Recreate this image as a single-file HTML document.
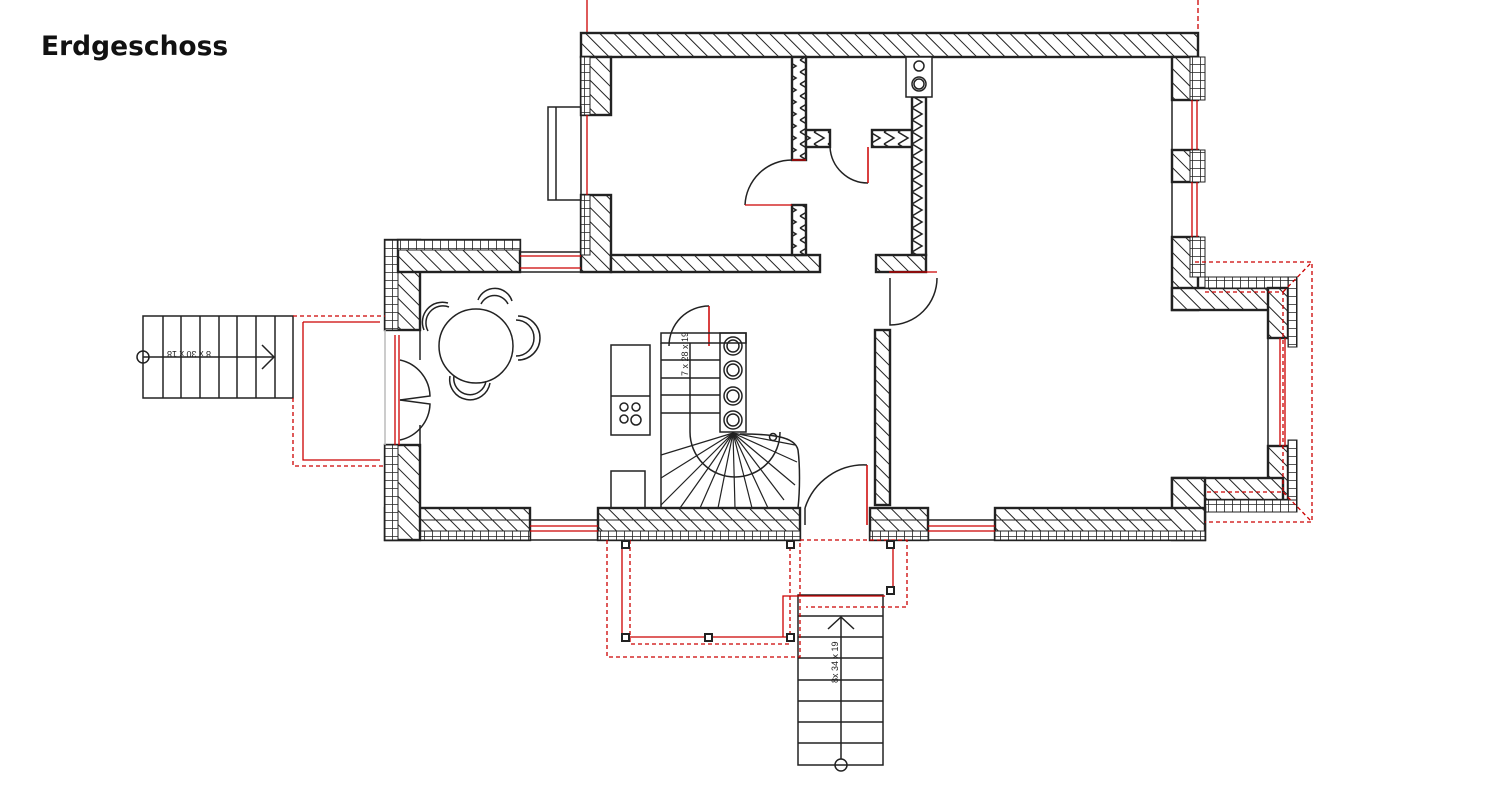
<!DOCTYPE html>
<html><head><meta charset="utf-8"><style>
html,body{margin:0;padding:0;background:#fff;width:1500px;height:792px;overflow:hidden}
</style></head><body>
<svg width="1500" height="792" viewBox="0 0 1500 792" xmlns="http://www.w3.org/2000/svg" style="position:absolute;left:0;top:0">
<defs>
<pattern id="h" width="10" height="10" patternUnits="userSpaceOnUse" patternTransform="rotate(-45)">
<rect width="10" height="10" fill="#fff"/><line x1="0" y1="0" x2="0" y2="10" stroke="#222" stroke-width="2"/></pattern>
<pattern id="b" width="8" height="8" patternUnits="userSpaceOnUse">
<rect width="8" height="8" fill="#fff"/><path d="M0 0H8M0 0V8" stroke="#222" stroke-width="1.6" fill="none"/></pattern>
<pattern id="z" width="14" height="12" patternUnits="userSpaceOnUse">
<rect width="14" height="12" fill="#fff"/><path d="M2 0L12 6L2 12" stroke="#222" stroke-width="1.5" fill="none"/></pattern>
</defs>
<text x="41" y="55" font-family="'DejaVu Sans','Liberation Sans',sans-serif" font-size="26.5" font-weight="bold" fill="#111">Erdgeschoss</text>

<g stroke="#c00" stroke-width="1.3" fill="none">
<line x1="587" y1="0" x2="587" y2="33"/>
<line x1="1198" y1="0" x2="1198" y2="33" stroke-dasharray="5,3"/>
</g>

<g stroke="#222" stroke-width="2.4">
<rect x="581" y="33" width="617" height="24" fill="url(#h)"/>
<rect x="581" y="57" width="30" height="58" fill="url(#h)"/>
<rect x="581" y="195" width="30" height="77" fill="url(#h)"/>
<rect x="581" y="57" width="9" height="58" fill="url(#b)" stroke-width="1"/>
<rect x="581" y="195" width="9" height="60" fill="url(#b)" stroke-width="1"/>
<rect x="611" y="255" width="209" height="17" fill="url(#h)"/>
<rect x="792" y="57" width="14" height="103" fill="url(#z)"/>
<rect x="792" y="205" width="14" height="50" fill="url(#z)"/>
<rect x="806" y="130" width="24" height="17" fill="url(#z)"/>
<rect x="872" y="130" width="40" height="17" fill="url(#z)"/>
<rect x="912" y="97" width="14" height="158" fill="url(#z)"/>
<rect x="876" y="255" width="50" height="17" fill="url(#h)"/>
<rect x="875" y="330" width="15" height="175" fill="url(#h)"/>
<rect x="1172" y="57" width="26" height="43" fill="url(#h)"/>
<rect x="1172" y="150" width="26" height="32" fill="url(#h)"/>
<rect x="1172" y="237" width="26" height="73" fill="url(#h)"/>
<rect x="1190" y="57" width="15" height="43" fill="url(#b)" stroke-width="1"/>
<rect x="1190" y="150" width="15" height="32" fill="url(#b)" stroke-width="1"/>
<rect x="1190" y="237" width="15" height="40" fill="url(#b)" stroke-width="1"/>
<rect x="1172" y="288" width="111" height="22" fill="url(#h)"/>
<rect x="1205" y="277" width="92" height="11" fill="url(#b)" stroke-width="1"/>
<rect x="1268" y="288" width="20" height="50" fill="url(#h)"/>
<rect x="1268" y="446" width="20" height="54" fill="url(#h)"/>
<rect x="1288" y="277" width="9" height="70" fill="url(#b)" stroke-width="1"/>
<rect x="1288" y="440" width="9" height="72" fill="url(#b)" stroke-width="1"/>
<rect x="1172" y="478" width="111" height="22" fill="url(#h)"/>
<rect x="1205" y="500" width="92" height="12" fill="url(#b)" stroke-width="1"/>
<rect x="1172" y="478" width="33" height="62" fill="url(#h)"/>
<rect x="385" y="508" width="145" height="32" fill="url(#h)"/>
<rect x="598" y="508" width="202" height="32" fill="url(#h)"/>
<rect x="870" y="508" width="58" height="32" fill="url(#h)"/>
<rect x="995" y="508" width="210" height="32" fill="url(#h)"/>
<g stroke-width="1">
<rect x="385" y="531" width="145" height="9" fill="url(#b)"/>
<rect x="598" y="531" width="202" height="9" fill="url(#b)"/>
<rect x="870" y="531" width="58" height="9" fill="url(#b)"/>
<rect x="995" y="531" width="210" height="9" fill="url(#b)"/>
<line x1="420" y1="520" x2="530" y2="520"/><line x1="598" y1="520" x2="800" y2="520"/>
<line x1="870" y1="520" x2="928" y2="520"/><line x1="995" y1="520" x2="1172" y2="520"/>
</g>
<rect x="385" y="240" width="35" height="90" fill="url(#h)"/>
<rect x="385" y="445" width="35" height="95" fill="url(#h)"/>
<rect x="385" y="240" width="13" height="90" fill="url(#b)" stroke-width="1"/>
<rect x="385" y="445" width="13" height="95" fill="url(#b)" stroke-width="1"/>
<rect x="398" y="240" width="122" height="32" fill="url(#h)"/>
<rect x="398" y="240" width="122" height="10" fill="url(#b)" stroke-width="1"/>
<rect x="906" y="57" width="26" height="40" fill="#fff" stroke-width="1.5"/>
</g>
<g fill="none" stroke="#222" stroke-width="1.5">
<circle cx="919" cy="66" r="5"/><circle cx="919" cy="84" r="7"/><circle cx="919" cy="84" r="5"/>
<line x1="520" y1="252" x2="580" y2="252"/><line x1="520" y1="272" x2="580" y2="272"/>
<line x1="530" y1="520" x2="598" y2="520"/><line x1="530" y1="540" x2="598" y2="540"/>
<line x1="928" y1="520" x2="995" y2="520"/><line x1="928" y1="540" x2="995" y2="540"/>
<line x1="1172" y1="100" x2="1172" y2="150"/><line x1="1172" y1="182" x2="1172" y2="237"/>
<line x1="1268" y1="338" x2="1268" y2="446"/>
<line x1="385" y1="330" x2="385" y2="445" stroke="#bbb"/>
<line x1="420" y1="330" x2="420" y2="360"/><line x1="420" y1="425" x2="420" y2="445"/>
<rect x="548" y="107" width="33" height="93"/><line x1="556" y1="107" x2="556" y2="200"/>
<path d="M745 205 A47 47 0 0 1 792 160"/>
<path d="M830 147 A38 38 0 0 0 868 183"/><line x1="868" y1="147" x2="868" y2="183" stroke="#c00"/>
<path d="M890 278 L890 325 A47 47 0 0 0 937 278"/>
<path d="M805 508 L805 525"/><path d="M805 508 A62 62 0 0 1 867 465"/><line x1="867" y1="465" x2="867" y2="525" stroke="#c00"/>
<path d="M400 400 L430 396 A38 38 0 0 0 400 360"/>
<path d="M400 400 L430 404 A38 38 0 0 1 400 440"/>
<path d="M709 306 A40 40 0 0 0 669 346"/><line x1="709" y1="306" x2="709" y2="346" stroke="#c00"/>
<circle cx="476" cy="346" r="37"/>
<path d="M424 330 A20 20 0 0 1 448 303"/><path d="M428 331 A17 17 0 0 1 449 307"/>
<path d="M478 300 A18 18 0 0 1 512 301"/><path d="M481 304 A15 15 0 0 1 508 304"/>
<path d="M518 316 A20 20 0 0 1 518 360"/><path d="M516 320 A15 15 0 0 1 516 356"/>
<path d="M450 376 A20 20 0 0 0 490 383"/><path d="M454 376 A16 16 0 0 0 486 381"/>
<rect x="611" y="345" width="39" height="90"/><line x1="611" y1="396" x2="650" y2="396"/>
<circle cx="624" cy="407" r="4"/><circle cx="636" cy="407" r="4"/><circle cx="624" cy="419" r="4"/><circle cx="636" cy="420" r="5"/>
<rect x="611" y="471" width="34" height="37"/>
<rect x="661" y="333" width="85" height="10"/>
<rect x="720" y="333" width="26" height="99"/>
<line x1="661" y1="343" x2="661" y2="508"/>
<line x1="661" y1="360" x2="720" y2="360"/><line x1="661" y1="378" x2="720" y2="378"/><line x1="661" y1="395" x2="720" y2="395"/><line x1="661" y1="413" x2="720" y2="413"/><line x1="690" y1="343" x2="690" y2="432"/>
<circle cx="733" cy="346" r="9"/><circle cx="733" cy="346" r="6"/>
<circle cx="733" cy="370" r="9"/><circle cx="733" cy="370" r="6"/>
<circle cx="733" cy="396" r="9"/><circle cx="733" cy="396" r="6"/>
<circle cx="733" cy="420" r="9"/><circle cx="733" cy="420" r="6"/>
<path d="M690 432 A45 45 0 0 0 780 432"/>
<path d="M740 434 C770 434 795 436 798 450 C800 465 800 490 798 508"/>
<circle cx="773" cy="437" r="3.5"/>
<g stroke-width="1.2">
<line x1="733" y1="433" x2="661" y2="455"/><line x1="733" y1="433" x2="661" y2="478"/><line x1="733" y1="433" x2="661" y2="505"/>
<line x1="733" y1="433" x2="680" y2="508"/><line x1="733" y1="433" x2="700" y2="508"/><line x1="733" y1="433" x2="718" y2="508"/>
<line x1="733" y1="433" x2="735" y2="508"/><line x1="733" y1="433" x2="752" y2="508"/><line x1="733" y1="433" x2="768" y2="508"/>
<line x1="733" y1="433" x2="784" y2="500"/><line x1="733" y1="433" x2="795" y2="485"/><line x1="733" y1="433" x2="797" y2="462"/><line x1="733" y1="433" x2="795" y2="445"/>
</g>
<rect x="143" y="316" width="150" height="82"/>
<line x1="163" y1="316" x2="163" y2="398"/><line x1="181" y1="316" x2="181" y2="398"/><line x1="200" y1="316" x2="200" y2="398"/><line x1="219" y1="316" x2="219" y2="398"/><line x1="237" y1="316" x2="237" y2="398"/><line x1="256" y1="316" x2="256" y2="398"/><line x1="275" y1="316" x2="275" y2="398"/>
<line x1="143" y1="357" x2="273" y2="357"/><path d="M262 345 L274 357 L262 369"/>
<circle cx="143" cy="357" r="6"/>
<rect x="798" y="595" width="85" height="170"/>
<line x1="798" y1="616" x2="883" y2="616"/><line x1="798" y1="637" x2="883" y2="637"/><line x1="798" y1="658" x2="883" y2="658"/><line x1="798" y1="680" x2="883" y2="680"/><line x1="798" y1="701" x2="883" y2="701"/><line x1="798" y1="722" x2="883" y2="722"/><line x1="798" y1="743" x2="883" y2="743"/>
<line x1="841" y1="617" x2="841" y2="759"/><path d="M828 629 L841 617 L854 629"/>
<circle cx="841" cy="765" r="6"/>
</g>
<text transform="translate(211,351) rotate(180)" font-family="'Liberation Sans',sans-serif" font-size="9" fill="#222">8 x 30 x 18</text>
<text transform="translate(688,376) rotate(-90)" font-family="'Liberation Sans',sans-serif" font-size="9" fill="#222">7 x 28 x 19</text>
<text transform="translate(838,683) rotate(-90)" font-family="'Liberation Sans',sans-serif" font-size="9" fill="#222">8x 34 x 19</text>

<g stroke="#c00" stroke-width="1.3" fill="none">
<path d="M745 205 L792 205"/><path d="M792 160 L806 160"/>
<path d="M520 256 H581 M520 268 H581"/>
<path d="M587 115 V195"/>
<path d="M530 526 H598 M530 531 H598"/>
<path d="M928 526 H995 M928 531 H995"/>
<path d="M1192 100 V150 M1197 100 V150 M1192 182 V237 M1197 182 V237"/>
<path d="M1280 338 V446 M1285 338 V446"/>
<path d="M395 335 V445 M399 335 V445"/>
<path d="M303 322 H380 M303 322 V460 H380"/>
<path d="M622 545 V637 H795 M783 637 V596 H885 M893 545 V590"/>
<path d="M889 272 H937"/>
</g>
<g stroke="#c00" stroke-width="1.3" fill="none" stroke-dasharray="4,3">
<path d="M293 316 H385 M293 398 V466 H385"/>
<path d="M607 540 V657 H800 V540 M630 540 V644 H790 V540"/>
<path d="M800 540 H907 V607 H806"/>
<path d="M1195 262 H1312 V522 H1205 M1205 292 H1283 V492 H1205"/>
<path d="M1283 292 L1312 262 M1283 492 L1312 522"/>
</g>
<g fill="#fff" stroke="#222" stroke-width="2">
<rect x="622" y="541" width="7" height="7"/><rect x="787" y="541" width="7" height="7"/><rect x="887" y="541" width="7" height="7"/>
<rect x="622" y="634" width="7" height="7"/><rect x="705" y="634" width="7" height="7"/><rect x="787" y="634" width="7" height="7"/><rect x="887" y="587" width="7" height="7"/>
</g>
</svg>
</body></html>
